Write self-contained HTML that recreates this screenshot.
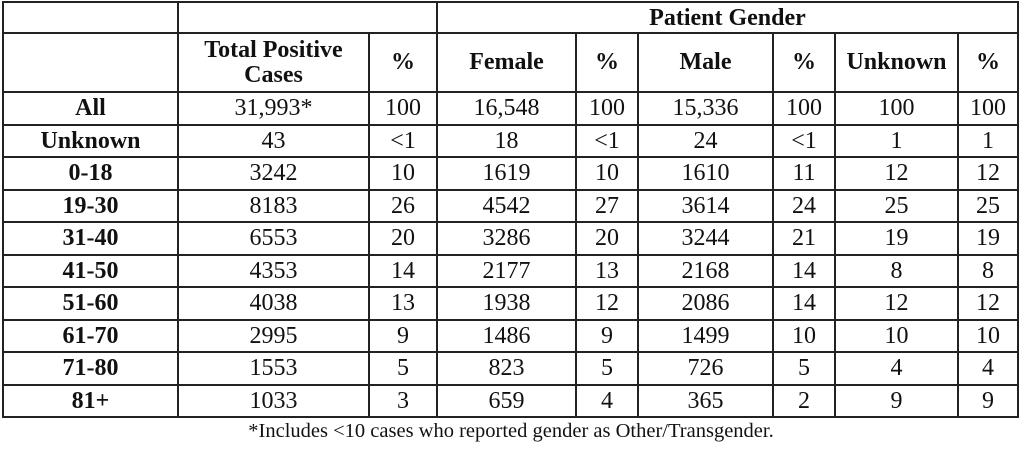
<!DOCTYPE html>
<html><head><style>
body{margin:0;background:#fff;width:1024px;height:460px;overflow:hidden;font-family:"Liberation Serif","Times New Roman",serif;color:#111}
table{position:absolute;left:2px;top:1px;border-collapse:collapse;table-layout:fixed;font-family:"Liberation Serif",serif}
td{border:2px solid #222;text-align:center;padding:0;font-size:24px;height:30.5px;line-height:26px;font-family:"Liberation Serif",serif}
td.b{font-weight:bold;font-size:24px}
tr.h1 td{height:29px}
tr.h2 td{height:57px;line-height:25px}
.f{position:absolute;top:420px;left:0;width:1022px;text-align:center;font-size:20.5px}
</style></head><body>
<table>
<colgroup><col style="width:175px"><col style="width:191px"><col style="width:68px"><col style="width:139px"><col style="width:62px"><col style="width:135px"><col style="width:62px"><col style="width:123px"><col style="width:60px"></colgroup>
<tr class="h1"><td></td><td colspan="2"></td><td colspan="6" class="b">Patient Gender</td></tr>
<tr class="h2"><td></td><td class="b">Total Positive<br>Cases</td><td class="b">%</td><td class="b">Female</td><td class="b">%</td><td class="b">Male</td><td class="b">%</td><td class="b">Unknown</td><td class="b">%</td></tr>
<tr><td class="b">All</td><td>31,993*</td><td>100</td><td>16,548</td><td>100</td><td>15,336</td><td>100</td><td>100</td><td>100</td></tr>
<tr><td class="b">Unknown</td><td>43</td><td>&lt;1</td><td>18</td><td>&lt;1</td><td>24</td><td>&lt;1</td><td>1</td><td>1</td></tr>
<tr><td class="b">0-18</td><td>3242</td><td>10</td><td>1619</td><td>10</td><td>1610</td><td>11</td><td>12</td><td>12</td></tr>
<tr><td class="b">19-30</td><td>8183</td><td>26</td><td>4542</td><td>27</td><td>3614</td><td>24</td><td>25</td><td>25</td></tr>
<tr><td class="b">31-40</td><td>6553</td><td>20</td><td>3286</td><td>20</td><td>3244</td><td>21</td><td>19</td><td>19</td></tr>
<tr><td class="b">41-50</td><td>4353</td><td>14</td><td>2177</td><td>13</td><td>2168</td><td>14</td><td>8</td><td>8</td></tr>
<tr><td class="b">51-60</td><td>4038</td><td>13</td><td>1938</td><td>12</td><td>2086</td><td>14</td><td>12</td><td>12</td></tr>
<tr><td class="b">61-70</td><td>2995</td><td>9</td><td>1486</td><td>9</td><td>1499</td><td>10</td><td>10</td><td>10</td></tr>
<tr><td class="b">71-80</td><td>1553</td><td>5</td><td>823</td><td>5</td><td>726</td><td>5</td><td>4</td><td>4</td></tr>
<tr><td class="b">81+</td><td>1033</td><td>3</td><td>659</td><td>4</td><td>365</td><td>2</td><td>9</td><td>9</td></tr>
</table>
<div class="f">*Includes &lt;10 cases who reported gender as Other/Transgender.</div>
</body></html>
